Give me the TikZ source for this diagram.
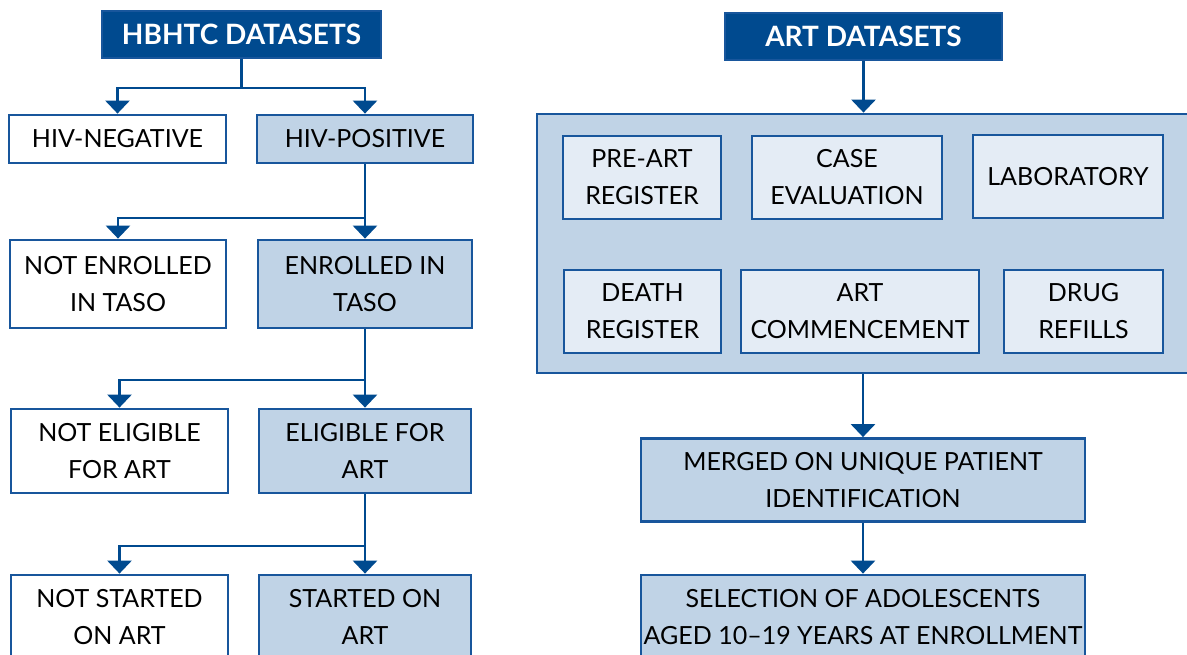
\documentclass[tikz,border=0pt]{standalone}
\usepackage{fontspec}
\setmainfont{Lato}
\usetikzlibrary{arrows.meta}

\definecolor{darkblue}{RGB}{0,74,143}
\definecolor{edgeblue}{RGB}{24,86,156}
\definecolor{paleblue}{RGB}{192,211,230}
\definecolor{innerblue}{RGB}{228,236,245}

\tikzset{
  box/.style={draw=edgeblue, line width=2.8pt, inner sep=0pt, align=center,
    text=black, font=\fontsize{25}{37}\selectfont},
  titlebox/.style={box, fill=darkblue, text=white,
    font=\fontsize{28}{37}\selectfont\bfseries},
  whitebox/.style={box, fill=white},
  bluebox/.style={box, fill=paleblue},
  innerbox/.style={box, fill=innerblue},
  arr/.style={draw=darkblue, line width=2.8pt,
    -{Triangle[width=24pt,length=13pt]}},
}

\begin{document}
\begin{tikzpicture}[x=1pt,y=-1pt]
\useasboundingbox (0,0) rectangle (1187,654);
\clip (0,0) rectangle (1187,654);

% left column: HBHTC
\node[titlebox, minimum width=279pt, minimum height=47pt] (hbhtc) at (241.5,34.5) {HBHTC DATASETS};
\node[whitebox, minimum width=217pt, minimum height=48pt] (neg) at (117.5,139) {HIV-NEGATIVE};
\node[bluebox, minimum width=216pt, minimum height=48pt] (pos) at (365,139) {HIV-POSITIVE};
\node[whitebox, minimum width=216pt, minimum height=88pt] (notenr) at (118,284) {NOT ENROLLED\\IN TASO};
\node[bluebox, minimum width=214pt, minimum height=88pt] (enr) at (365,284) {ENROLLED IN\\TASO};
\node[whitebox, minimum width=217pt, minimum height=84pt] (notelig) at (119.5,451) {NOT ELIGIBLE\\FOR ART};
\node[bluebox, minimum width=212pt, minimum height=84pt] (elig) at (365,451) {ELIGIBLE FOR\\ART};
\node[whitebox, minimum width=217pt, minimum height=84pt] (notstart) at (119.5,617) {NOT STARTED\\ON ART};
\node[bluebox, minimum width=212pt, minimum height=84pt] (start) at (365,617) {STARTED ON\\ART};

% branches
\draw[arr] (hbhtc.south) -- (hbhtc.south |- 0,88) -| (neg.north);
\draw[arr] (hbhtc.south |- 0,88) -| (pos.north);
\draw[arr] (pos.south) -- (pos.south |- 0,218) -| (notenr.north);
\draw[arr] (pos.south |- 0,218) -- (enr.north);
\draw[arr] (enr.south) -- (enr.south |- 0,380) -| (notelig.north);
\draw[arr] (enr.south |- 0,380) -- (elig.north);
\draw[arr] (elig.south) -- (elig.south |- 0,546) -| (notstart.north);
\draw[arr] (elig.south |- 0,546) -- (start.north);

% right column: ART
\node[titlebox, minimum width=277pt, minimum height=47pt] (art) at (863.5,36.5) {ART DATASETS};
\node[bluebox, minimum width=658pt, minimum height=259pt] (group) at (866,243.5) {};
\node[innerbox, minimum width=158pt, minimum height=83pt] (prereg) at (642,177.5) {PRE-ART\\REGISTER};
\node[innerbox, minimum width=190pt, minimum height=83pt] (caseev) at (847,177.5) {CASE\\EVALUATION};
\node[innerbox, minimum width=190pt, minimum height=83pt] (lab) at (1068,176.5) {LABORATORY};
\node[innerbox, minimum width=157pt, minimum height=83pt] (death) at (642.5,311.5) {DEATH\\REGISTER};
\node[innerbox, minimum width=238pt, minimum height=83pt] (comm) at (860,311.5) {ART\\COMMENCEMENT};
\node[innerbox, minimum width=159pt, minimum height=83pt] (drug) at (1083.5,311.5) {DRUG\\REFILLS};
\node[bluebox, minimum width=444pt, minimum height=83pt] (merged) at (863,480) {MERGED ON UNIQUE PATIENT\\IDENTIFICATION};
\node[bluebox, minimum width=444pt, minimum height=84pt] (select) at (863,617) {SELECTION OF ADOLESCENTS\\AGED 10--19 YEARS AT ENROLLMENT};

\draw[arr] (art.south) -- (art.south |- group.north);
\draw[arr] (merged.north |- group.south) -- (merged.north);
\draw[arr] (merged.south) -- (select.north);
\end{tikzpicture}
\end{document}
